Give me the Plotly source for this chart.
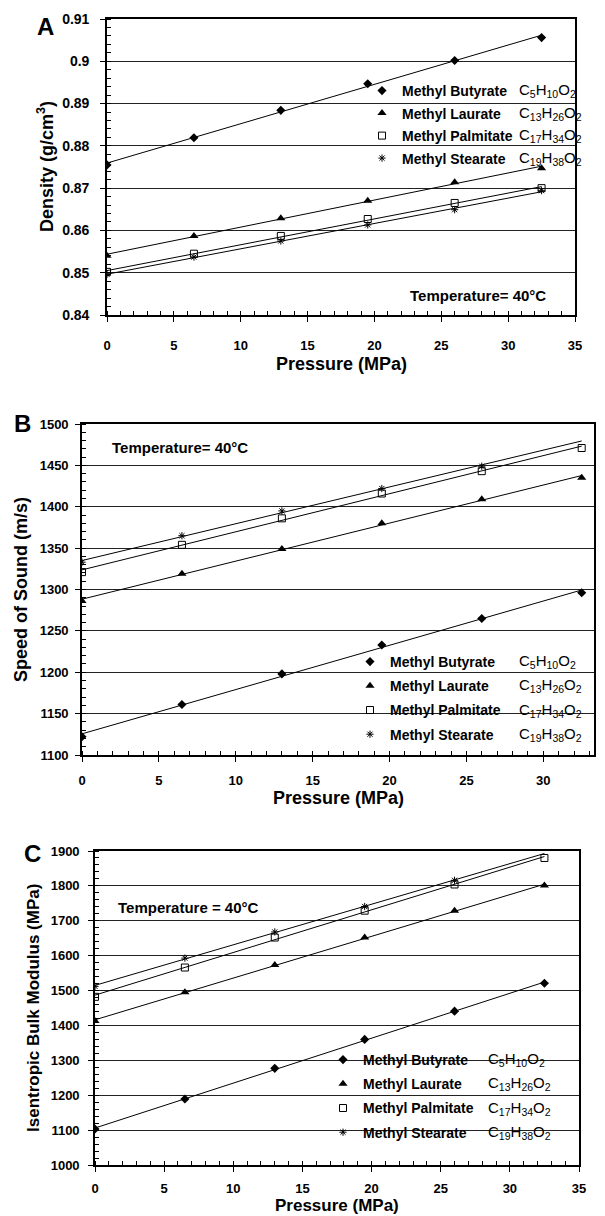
import numpy as np
import plotly.graph_objects as go

W, H = 605, 1216

# ---------------- data ----------------
pressure = [0, 6.5, 13, 19.5, 26, 32.5]
names = ["Methyl Butyrate", "Methyl Laurate", "Methyl Palmitate", "Methyl Stearate"]
formulas = [
    "C<sub>5</sub>H<sub>10</sub>O<sub>2</sub>",
    "C<sub>13</sub>H<sub>26</sub>O<sub>2</sub>",
    "C<sub>17</sub>H<sub>34</sub>O<sub>2</sub>",
    "C<sub>19</sub>H<sub>38</sub>O<sub>2</sub>",
]

# Panel A: density (g/cm3)
density_butyrate = [0.8755, 0.8819, 0.8884, 0.8947, 0.9002, 0.9056]
density_laurate = [0.8540, 0.8587, 0.8629, 0.8670, 0.8714, 0.8747]
density_palmitate = [0.8502, 0.8545, 0.8587, 0.8627, 0.8665, 0.8700]
density_stearate = [0.8496, 0.8537, 0.8575, 0.8613, 0.8649, 0.8694]

# Panel B: speed of sound (m/s)
sound_butyrate = [1122, 1161, 1198, 1233, 1265, 1296]
sound_laurate = [1286, 1319, 1349, 1380, 1409, 1435]
sound_palmitate = [1321, 1354, 1386, 1416, 1443, 1471]
sound_stearate = [1333, 1365, 1395, 1422, 1449, None]

# Panel C: isentropic bulk modulus (MPa)
modulus_butyrate = [1103, 1189, 1277, 1360, 1441, 1521]
modulus_laurate = [1413, 1495, 1573, 1652, 1729, 1801]
modulus_palmitate = [1482, 1566, 1652, 1729, 1804, 1880]
modulus_stearate = [1512, 1593, 1668, 1741, 1816, None]

x_ticks = [0, 5, 10, 15, 20, 25, 30, 35]
x_title = "Pressure (MPa)"

# ---------------- styling ----------------
FONT = "Liberation Sans"
symbols = [
    dict(symbol="diamond", size=7, color="black"),
    dict(symbol="triangle-up", size=8, color="black"),
    dict(symbol="square-open", size=7, color="black", line=dict(width=1, color="black")),
    dict(symbol="asterisk-open", size=6, color="black", line=dict(width=1, color="black")),
]


def px_x(v):
    return v / W


def px_y(v):
    return 1 - v / H


fig = go.Figure()

panels = [
    dict(
        series=[density_butyrate, density_laurate, density_palmitate, density_stearate],
        ax="", xdom=[107, 575], ydom=[315, 19], xrange=[0, 35], yrange=[0.84, 0.91],
        ydtick=0.01, yminor=0.002, ytitle="Density (g/cm<sup>3</sup>)", ytitle_size=18,
        ytick_size=14, ylabstand=8, xlabstand=13, xtitle_size=18,
        ytitle_pos=(45, 167), xtitle_y=364, xtitle_anchor="middle",
        legend_x=362, legend_top=75, gap=1.3, form_x=517,
        cover=[371, 522, 80, 172], letter="A", letter_pos=(45, 26),
        temp="Temperature= 40°C", temp_pos=(478, 295),
    ),
    dict(
        series=[sound_butyrate, sound_laurate, sound_palmitate, sound_stearate],
        ax="2", xdom=[82, 594], ydom=[755, 424], xrange=[0, 33.3], yrange=[1100, 1500],
        ydtick=50, yminor=10, ytitle="Speed of Sound (m/s)", ytitle_size=18,
        ytick_size=13, ylabstand=4, xlabstand=8, xtitle_size=18,
        ytitle_pos=(21, 590), xtitle_y=798, xtitle_anchor="middle",
        legend_x=350, legend_top=646, gap=3, form_x=517,
        cover=[361, 586, 646, 750], letter="B", letter_pos=(23, 423),
        temp="Temperature= 40°C", temp_pos=(180, 447),
    ),
    dict(
        series=[modulus_butyrate, modulus_laurate, modulus_palmitate, modulus_stearate],
        ax="3", xdom=[95, 579], ydom=[1165, 851], xrange=[0, 35], yrange=[1000, 1900],
        ydtick=100, yminor=20, ytitle="Isentropic Bulk Modulus (MPa)", ytitle_size=17,
        ytick_size=13, ylabstand=6, xlabstand=6, xtitle_size=17,
        ytitle_pos=(33, 1008), xtitle_y=1216, xtitle_anchor="bottom",
        legend_x=323, legend_top=1044, gap=3, form_x=486,
        cover=[344, 555, 1045, 1148], letter="C", letter_pos=(32, 853),
        temp="Temperature = 40°C", temp_pos=(188, 907),
    ),
]

annotations = []
shapes = []
layout_axes = {}

for pi, p in enumerate(panels):
    ax = p["ax"]
    xa, ya = "x" + ax, "y" + ax
    legname = "legend" + ax
    for si, (name, vals) in enumerate(zip(names, p["series"])):
        xs = [pr for pr, v in zip(pressure, vals) if v is not None]
        ys = [v for v in vals if v is not None]
        coef = np.polyfit(xs, ys, 1)
        xl = np.array([pressure[0], pressure[-1]])
        yl = np.polyval(coef, xl)
        fig.add_trace(go.Scatter(
            x=xl, y=yl, mode="lines", line=dict(color="black", width=1),
            showlegend=False, hoverinfo="skip", xaxis=xa, yaxis=ya,
        ))
        fig.add_trace(go.Scatter(
            x=xs, y=ys, mode="markers", marker=symbols[si], name=name,
            legend=legname, legendgroup=f"g{pi}{si}", xaxis=xa, yaxis=ya,
        ))

    layout_axes["xaxis" + ax] = dict(
        domain=[px_x(p["xdom"][0]), px_x(p["xdom"][1])],
        range=p["xrange"], anchor=ya,
        tickvals=x_ticks, ticks="outside", ticklen=5, tickwidth=1.2, tickcolor="black",
        minor=dict(ticks="inside", ticklen=4, dtick=1, tickcolor="black", showgrid=False),
        showline=True, linecolor="black", linewidth=1.6, mirror=True,
        showgrid=False, zeroline=False, automargin=False,
        ticklabelstandoff=p["xlabstand"],
        tickfont=dict(family=FONT, size=13, color="black", weight="bold"),
    )
    layout_axes["yaxis" + ax] = dict(
        domain=[px_y(p["ydom"][0]), px_y(p["ydom"][1])],
        range=p["yrange"], anchor=xa, dtick=p["ydtick"], tick0=p["yrange"][0],
        ticks="outside", ticklen=5, tickwidth=1.2, tickcolor="black",
        minor=dict(ticks="inside", ticklen=4, dtick=p["yminor"], tickcolor="black", showgrid=False),
        showline=True, linecolor="black", linewidth=1.6, mirror=True,
        showgrid=True, gridcolor="#222222", gridwidth=1, zeroline=False, automargin=False,
        ticklabelstandoff=p["ylabstand"],
        tickfont=dict(family=FONT, size=p["ytick_size"], color="black", weight="bold"),
    )
    layout_axes[legname] = dict(
        x=px_x(p["legend_x"]), y=px_y(p["legend_top"]), xanchor="left", yanchor="top",
        bgcolor="rgba(255,255,255,0)", borderwidth=0, traceorder="grouped",
        tracegroupgap=p["gap"],
        font=dict(family=FONT, size=14, color="black", weight="bold"),
    )
    # axis titles
    xc = (p["xdom"][0] + p["xdom"][1]) / 2
    annotations.append(dict(
        text=x_title, x=px_x(xc), y=px_y(p["xtitle_y"]), xref="paper", yref="paper",
        xanchor="center", yanchor=p["xtitle_anchor"], showarrow=False, borderpad=0,
        font=dict(family=FONT, size=p["xtitle_size"], color="black", weight="bold"),
    ))
    annotations.append(dict(
        text=p["ytitle"], x=px_x(p["ytitle_pos"][0]), y=px_y(p["ytitle_pos"][1]),
        xref="paper", yref="paper", xanchor="center", yanchor="middle",
        textangle=-90, showarrow=False,
        font=dict(family=FONT, size=p["ytitle_size"], color="black", weight="bold"),
    ))
    # legend rows: formulas aligned to legend entries
    first_row = p["legend_top"] + 15.6
    step = 21.2 + p["gap"]
    for k, f in enumerate(formulas):
        annotations.append(dict(
            text=f, x=px_x(p["form_x"]), y=px_y(first_row + k * step),
            xref="paper", yref="paper",
            xanchor="left", yanchor="middle", showarrow=False,
            font=dict(family=FONT, size=15, color="black"),
        ))
    annotations.append(dict(
        text=p["letter"], x=px_x(p["letter_pos"][0]), y=px_y(p["letter_pos"][1]),
        xref="paper", yref="paper", xanchor="center", yanchor="middle", showarrow=False,
        font=dict(family=FONT, size=24, color="black", weight="bold"),
    ))
    annotations.append(dict(
        text=p["temp"], x=px_x(p["temp_pos"][0]), y=px_y(p["temp_pos"][1]),
        xref="paper", yref="paper", xanchor="center", yanchor="middle", showarrow=False,
        font=dict(family=FONT, size=15, color="black", weight="bold"),
    ))
    c = p["cover"]
    shapes.append(dict(
        type="rect", xref="paper", yref="paper", layer="between",
        x0=px_x(c[0]), x1=px_x(c[1]), y0=px_y(c[3]), y1=px_y(c[2]),
        fillcolor="white", line=dict(width=0),
    ))

fig.update_layout(
    width=W, height=H,
    margin=dict(l=0, r=0, t=0, b=0),
    paper_bgcolor="white", plot_bgcolor="white",
    font=dict(family=FONT, color="black"),
    annotations=annotations, shapes=shapes,
    **layout_axes,
)

# remove the browser's default 8px page margin so the figure sits at the window origin
fig.write_html(
    "out.html",
    config={"displayModeBar": False},
    post_script="document.body.style.margin='0';",
)
